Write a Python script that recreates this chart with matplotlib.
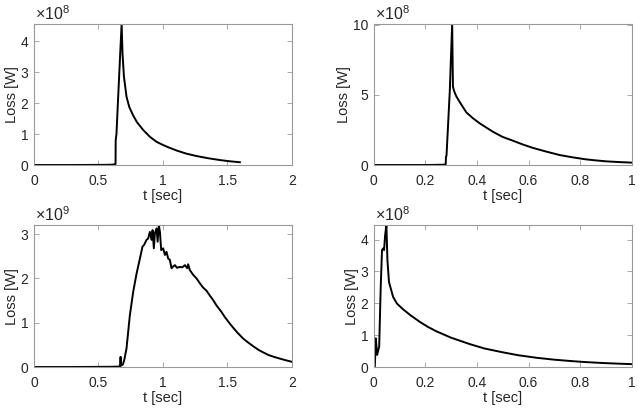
import numpy as np
import matplotlib
matplotlib.use("Agg")
import matplotlib.pyplot as plt
from matplotlib.ticker import FuncFormatter

plt.rcParams['font.family'] = ['Liberation Sans', 'DejaVu Sans']
plt.rcParams['mathtext.fontset'] = 'custom'
plt.rcParams['mathtext.rm'] = 'Liberation Sans'
plt.rcParams['mathtext.it'] = 'Liberation Sans:italic'

# ---- data (values in units of the panel's multiplier) ----
t1 = [0, 0.3, 0.55, 0.6, 0.625, 0.630, 0.633, 0.634, 0.640, 0.660, 0.680, 0.687, 0.698, 0.718, 0.740,
      0.770, 0.800, 0.848, 0.900, 0.951, 1.0, 1.05, 1.106, 1.18, 1.261, 1.35, 1.442, 1.52, 1.597]
v1 = [0, 0, 0.005, 0.01, 0.02, 0.02, 0.03, 0.8, 1.0, 2.8, 4.56, 3.61, 2.86, 2.21, 1.87,
      1.60, 1.38, 1.13, 0.91, 0.75, 0.65, 0.56, 0.47, 0.37, 0.29, 0.22, 0.16, 0.12, 0.09]

t2 = [0, 0.2, 0.27, 0.279, 0.280, 0.282, 0.295, 0.298, 0.304, 0.307, 0.311, 0.320, 0.333, 0.359,
      0.385, 0.411, 0.462, 0.50, 0.540, 0.58, 0.617, 0.67, 0.721, 0.77, 0.824, 0.86, 0.902, 0.95, 1.0]
v2 = [0, 0, 0.02, 0.05, 0.6, 0.65, 5.35, 7.0, 10.05, 5.6, 5.3, 4.9, 4.5, 3.75,
      3.33, 2.97, 2.37, 2.0, 1.73, 1.45, 1.22, 0.95, 0.71, 0.55, 0.40, 0.33, 0.26, 0.21, 0.17]

t3 = [0, 0.3, 0.6, 0.66, 0.667, 0.672, 0.676, 0.680, 0.690, 0.700, 0.718, 0.744, 0.770, 0.796, 0.822,
      0.842, 0.855, 0.873, 0.886, 0.899, 0.912, 0.920, 0.930, 0.938, 0.951, 0.959, 0.969, 0.977, 0.987,
      1.002, 1.016, 1.028, 1.041, 1.054, 1.067, 1.080, 1.093, 1.11, 1.132, 1.15, 1.171, 1.189, 1.196,
      1.209, 1.235, 1.261, 1.287, 1.31, 1.339, 1.36, 1.39, 1.416, 1.45, 1.48, 1.519, 1.55, 1.58, 1.62,
      1.649, 1.70, 1.74, 1.778, 1.82, 1.86, 1.907, 1.95, 1.997]
v3 = [0, 0, 0.005, 0.01, 0.02, 0.23, 0.03, 0.04, 0.06, 0.15, 0.42, 1.17, 1.70, 2.11, 2.45,
      2.72, 2.76, 2.87, 2.90, 3.05, 2.87, 3.09, 2.68, 3.02, 3.13, 2.83, 3.20, 3.05, 2.64,
      2.68, 2.53, 2.60, 2.45, 2.42, 2.23, 2.27, 2.30, 2.24, 2.26, 2.25, 2.30, 2.23, 2.32,
      2.19, 2.08, 2.0, 1.89, 1.80, 1.72, 1.63, 1.51, 1.39, 1.26, 1.13, 0.98, 0.87, 0.77, 0.65,
      0.58, 0.47, 0.39, 0.33, 0.27, 0.23, 0.19, 0.155, 0.12]

t4 = [0, 0.004, 0.008, 0.013, 0.021, 0.027, 0.032, 0.036, 0.040, 0.044, 0.049, 0.053, 0.059, 0.075,
      0.09, 0.114, 0.14, 0.178, 0.21, 0.243, 0.30, 0.372, 0.43, 0.501, 0.56, 0.631, 0.70, 0.760,
      0.82, 0.889, 0.95, 0.999]
v4 = [0, 0, 0.90, 0.38, 0.64, 2.52, 3.67, 3.72, 3.67, 4.14, 4.45, 3.35, 2.67, 2.20,
      1.99, 1.81, 1.64, 1.42, 1.26, 1.12, 0.92, 0.72, 0.58, 0.46, 0.37, 0.29, 0.23, 0.19,
      0.155, 0.125, 0.105, 0.09]

exponents = [8, 8, 9, 8]
xmaxes = [2, 1, 2, 1]
xticks_list = [[0, 0.5, 1, 1.5, 2], [0, 0.2, 0.4, 0.6, 0.8, 1],
               [0, 0.5, 1, 1.5, 2], [0, 0.2, 0.4, 0.6, 0.8, 1]]
yticks_list = [[0, 1, 2, 3, 4], [0, 5, 10], [0, 1, 2, 3], [0, 1, 2, 3, 4]]
xlabel = 't [sec]'
ylabel = 'Loss [W]'

series = [(t1, v1), (t2, v2), (t3, v3), (t4, v4)]
positions = [[0.053, 0.5995, 0.403, 0.342], [0.584, 0.5995, 0.403, 0.342],
             [0.053, 0.1092, 0.403, 0.344], [0.584, 0.1092, 0.403, 0.344]]

fig = plt.figure(figsize=(6.4, 4.12), dpi=100)
axis_col = '0.6'
text_col = '#262626'

for (t, v), pos, ex, xm, xt, yt in zip(series, positions, exponents, xmaxes, xticks_list, yticks_list):
    ax = fig.add_axes(pos)
    scale = 10.0 ** ex
    y = np.array(v) * scale
    ax.plot(t, y, color='black', lw=1.4)
    ax.set_xlim(0, xm)
    ax.set_ylim(0, y.max())
    ax.set_xticks(xt)
    ax.set_yticks([k * scale for k in yt])
    ax.xaxis.set_major_formatter(FuncFormatter(lambda val, p: f'{val:g}'))
    ax.yaxis.set_major_formatter(FuncFormatter(lambda val, p, s=scale: f'{val / s:g}'))
    ax.tick_params(direction='in', length=3.5, width=0.6, top=True, right=True,
                   colors=axis_col, labelcolor=text_col, labelsize=10)
    ax.tick_params(axis='x', pad=6.5)
    ax.tick_params(axis='y', pad=4)
    for sp in ax.spines.values():
        sp.set_color(axis_col)
        sp.set_linewidth(0.8)
    ax.set_xlabel(xlabel, fontsize=10.5, color=text_col, labelpad=1)
    ax.set_ylabel(ylabel, fontsize=10.5, color=text_col, labelpad=1)
    ax.text(0.004, 1.01, r'$\mathregular{\times10^{%d}}$' % ex, transform=ax.transAxes,
            ha='left', va='bottom', fontsize=11.5, color=text_col)

fig.savefig('out.png', dpi=100)
